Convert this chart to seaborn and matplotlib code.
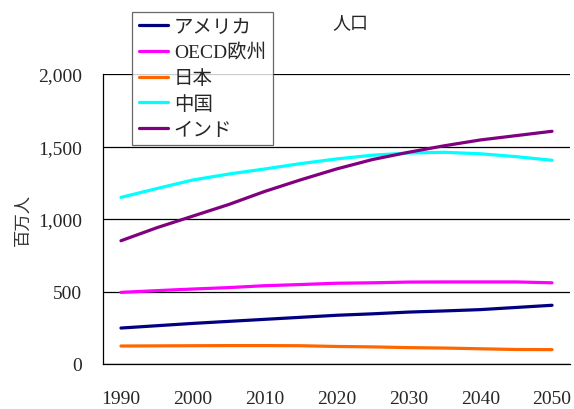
import numpy as np
import pandas as pd
import matplotlib
matplotlib.use("Agg")
import matplotlib.pyplot as plt
import seaborn as sns
from matplotlib.ticker import FixedLocator, FuncFormatter

years = [str(y) for y in range(1990, 2051, 5)]
usa = [248, 264, 280, 294, 308, 322, 336, 346, 358, 366, 375, 390, 405]
oecd_eu = [494, 506, 517, 527, 540, 548, 557, 560, 565, 566, 566, 566, 560]
japan = [124, 125, 126, 127, 127, 126, 121, 118, 113, 110, 105, 100, 99]
china = [1149, 1210, 1269, 1310, 1345, 1382, 1414, 1440, 1455, 1460, 1450, 1430, 1405]
india = [850, 940, 1020, 1100, 1190, 1270, 1345, 1410, 1460, 1505, 1545, 1575, 1605]

names = ["アメリカ", "OECD欧州", "日本", "中国", "インド"]
colors = ["#000080", "#FF00FF", "#FF6600", "#00FFFF", "#800080"]

df = pd.DataFrame({"year": years, names[0]: usa, names[1]: oecd_eu,
                   names[2]: japan, names[3]: china, names[4]: india})
long = df.melt(id_vars="year", var_name="region", value_name="pop")

sns.set_style("white")
plt.rcParams["font.family"] = ["Liberation Serif", "Noto Sans CJK JP"]

fig = plt.figure(figsize=(5.74, 4.10), dpi=100)
ax = fig.add_axes([103 / 574, 45 / 410, 467 / 574, 290 / 410])

sns.lineplot(data=long, x="year", y="pop", hue="region", hue_order=names,
             palette=colors, linewidth=2.3, ax=ax, legend=True)

ax.set_xlim(-0.5, len(years) - 0.5)
ax.set_ylim(0, 2000)
ax.set_yticks([0, 500, 1000, 1500, 2000])
ax.yaxis.set_major_formatter(FuncFormatter(lambda v, p: f"{int(v):,}"))
ax.grid(axis="y", color="black", linewidth=0.9)
ax.set_axisbelow(True)

ax.set_xticks(range(0, len(years), 2))
ax.set_xticklabels(years[::2])
ax.xaxis.set_minor_locator(FixedLocator(np.arange(0.5, len(years) + 0.5, 1)))
ax.tick_params(axis="x", which="major", length=0, pad=19, labelsize=14)
ax.tick_params(axis="x", which="minor", direction="in", length=5, width=0.9, color="black")
ax.tick_params(axis="y", length=0, pad=15, labelsize=14)

for s in ["top", "right"]:
    ax.spines[s].set_visible(False)
for s in ["left", "bottom"]:
    ax.spines[s].set_color("black")
    ax.spines[s].set_linewidth(0.9)

ax.set_xlabel("")
ax.set_ylabel("百万人", fontsize=12.5, color="#333333", labelpad=5)

ax.text(0.53, 1.18, "人口", transform=ax.transAxes, ha="center", va="center",
        fontsize=13, family=["Noto Sans CJK JP"])

leg = ax.legend(loc="upper left", bbox_to_anchor=(29 / 467, 1.215), fontsize=14,
                handlelength=1.5, handletextpad=0.3, labelspacing=0.4,
                borderpad=0.35, fancybox=False, frameon=True, borderaxespad=0)
leg.get_frame().set_edgecolor("#444444")
leg.get_frame().set_linewidth(0.9)
for line in leg.get_lines():
    line.set_linewidth(2.3)

fig.savefig("out.png", dpi=100)
